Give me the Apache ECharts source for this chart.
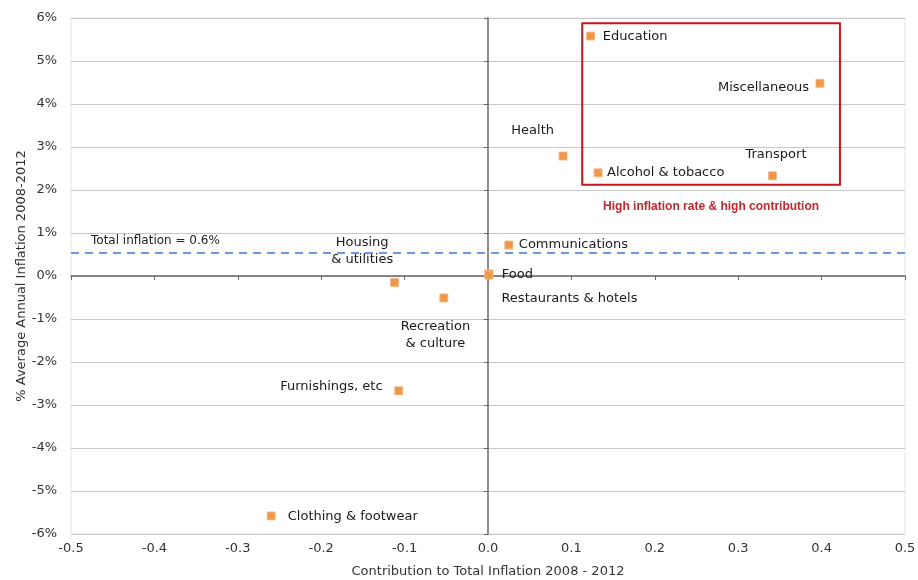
<!DOCTYPE html>
<html>
<head>
<meta charset="utf-8">
<script src="https://cdn.jsdelivr.net/npm/echarts@6/dist/echarts.min.js"></script>
<style>html,body{margin:0;padding:0;background:#fff}#c{width:918px;height:580px}</style>
</head>
<body>
<div id="c"></div>
<script>
// ---- data ----
const categories = ["Education","Miscellaneous","Health","Alcohol & tobacco","Transport","Communications","Food","Restaurants & hotels","Housing\n& utilities","Recreation\n& culture","Furnishings, etc","Clothing & footwear"];
const contribution = [0.123, 0.398, 0.090, 0.132, 0.341, 0.025, 0.001, 0.001, -0.112, -0.053, -0.107, -0.260];
const avgInflation = [5.58, 4.48, 2.79, 2.40, 2.33, 0.72, 0.05, 0.02, -0.15, -0.51, -2.67, -5.58];
const totalInflationLine = 0.54;
const totalInflationText = "Total inflation = 0.6%";
const highBox = [[0.113, 5.88], [0.422, 2.12]];
const highBoxText = "High inflation rate & high contribution";
const xTicks = {min: -0.5, max: 0.5, interval: 0.1};
const yTicks = {min: -6, max: 6, interval: 1};

// ---- label layout (styling, not data) ----
const labelOffsets = {
  "Education": [45, 1],
  "Miscellaneous": [-56, 5],
  "Health": [-30, -25],
  "Alcohol & tobacco": [68, 0],
  "Transport": [4, -21],
  "Communications": [65, 0],
  "Food": [29, 1],
  "Restaurants & hotels": [81, 24],
  "Housing\n& utilities": [-32, -31],
  "Recreation\n& culture": [-8, 38],
  "Furnishings, etc": [-67, -4],
  "Clothing & footwear": [82, 1]
};

const FONT = "DejaVu Sans";
const points = categories.map((n, i) => ({
  name: n,
  value: [contribution[i], avgInflation[i]]
}));

const chart = echarts.init(document.getElementById('c'), null, {renderer: 'canvas'});
chart.setOption({
  animation: false,
  backgroundColor: '#fff',
  grid: {left: 71, right: 13, top: 18, bottom: 46, show: true, borderColor: '#e4e4e4', borderWidth: 1,
    containLabel: false, outerBoundsMode: 'none'},
  xAxis: [{
    type: 'value', min: xTicks.min, max: xTicks.max, interval: xTicks.interval, position: 'bottom',
    axisLine: {show: false, onZero: false},
    axisTick: {show: false}, splitLine: {show: false},
    axisLabel: {color: '#333', fontFamily: FONT, fontSize: 13, margin: 8,
      formatter: v => v.toFixed(1)},
    name: 'Contribution to Total Inflation 2008 - 2012', nameLocation: 'middle', nameGap: 31,
    nameMoveOverlap: false,
    nameTextStyle: {color: '#333', fontFamily: FONT, fontSize: 13}
  }, {
    type: 'value', min: xTicks.min, max: xTicks.max, interval: xTicks.interval, position: 'bottom',
    axisLine: {show: true, onZero: true, lineStyle: {color: '#666', width: 1.5}},
    axisTick: {show: true, length: 4, lineStyle: {color: '#666'}},
    axisLabel: {show: false}, splitLine: {show: false}
  }],
  yAxis: [{
    type: 'value', min: yTicks.min, max: yTicks.max, interval: yTicks.interval, position: 'left',
    axisLine: {show: false, onZero: false},
    axisTick: {show: false},
    splitLine: {show: true, lineStyle: {color: '#c8c8c8', width: 1}},
    axisLabel: {color: '#333', fontFamily: FONT, fontSize: 13, margin: 14, formatter: v => v + '%'},
    name: '% Average Annual Inflation 2008-2012', nameLocation: 'middle', nameGap: 43,
    nameMoveOverlap: false,
    nameTextStyle: {color: '#333', fontFamily: FONT, fontSize: 13}
  }, {
    type: 'value', min: yTicks.min, max: yTicks.max, interval: yTicks.interval, position: 'left',
    axisLine: {show: true, onZero: true, lineStyle: {color: '#666', width: 1.5}},
    axisTick: {show: true, length: 4, lineStyle: {color: '#666'}},
    axisLabel: {show: false}, splitLine: {show: false}
  }],
  series: [{
    type: 'scatter', xAxisIndex: 0, yAxisIndex: 0,
    symbol: 'rect', symbolSize: 8,
    itemStyle: {color: '#F0984A', borderColor: '#F6B57A', borderWidth: 0.8, opacity: 1},
    label: {show: true, position: [4, 4], align: 'center', verticalAlign: 'middle',
      formatter: p => p.name, color: '#1a1a1a', fontFamily: FONT, fontSize: 13, lineHeight: 17},
    labelLayout: p => {
      const o = labelOffsets[categories[p.dataIndex]];
      return {dx: o[0], dy: o[1], hideOverlap: false};
    },
    data: points,
    markLine: {
      silent: true, symbol: 'none',
      lineStyle: {color: '#6A9BD8', type: [8, 6], width: 2},
      label: {show: true, position: 'insideStartTop', formatter: totalInflationText,
        color: '#222', fontFamily: FONT, fontSize: 12, distance: [20, 6]},
      data: [{yAxis: totalInflationLine}]
    },
    markArea: {
      silent: true,
      itemStyle: {color: 'rgba(0,0,0,0)', borderColor: '#C8161D', borderWidth: 2},
      label: {show: true, position: 'bottom', distance: 15, formatter: highBoxText,
        color: '#C0282D', fontWeight: 'bold', fontFamily: 'Liberation Sans', fontSize: 12},
      data: [[{coord: highBox[0]}, {coord: highBox[1]}]]
    }
  }]
});
</script>
</body>
</html>
